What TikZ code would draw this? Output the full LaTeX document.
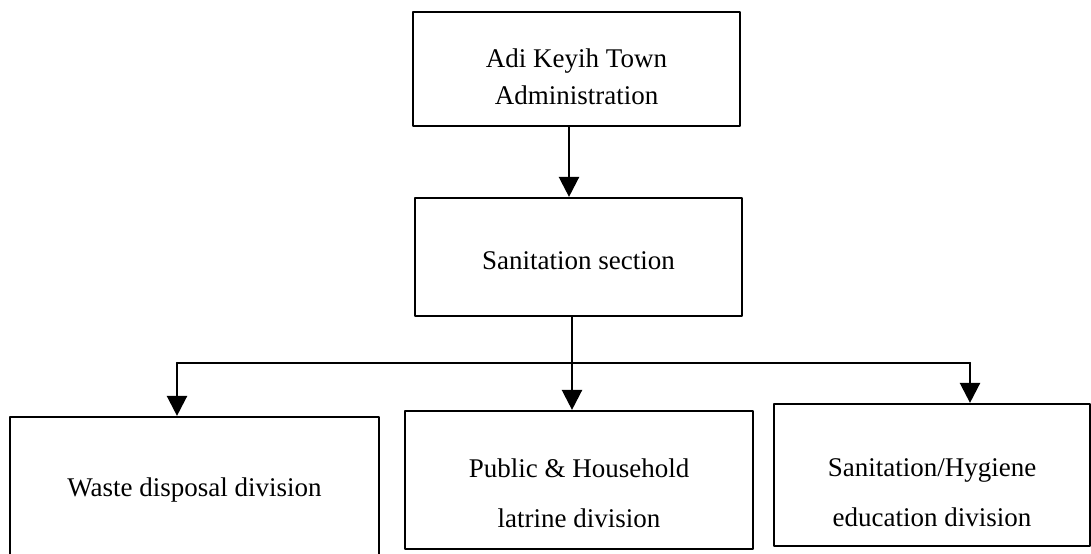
\documentclass[tikz,border=0pt]{standalone}
\usepackage{fontspec}
\setmainfont{Liberation Serif}
\usepackage{tikz}
\usetikzlibrary{calc}
\usetikzlibrary{arrows.meta}
\tikzset{unitbox/.style={draw,line width=1.1pt,inner sep=0pt,align=center,font=\fontsize{13.5}{25}\selectfont}}

\begin{document}
\begin{tikzpicture}[line cap=round,line join=round,>={Triangle[width=10pt,length=10pt]},x=0.5pt,y=-0.5pt]
                    \useasboundingbox (0,0) rectangle (1091,553);
                    \clip (0,0) rectangle (1091,553);
                    \node [unitbox,minimum width=163.5pt,minimum height=57pt,font=\fontsize{13.5}{18.5}\selectfont] (admin) at (576.5,69) {\rule{0pt}{17.5pt}Adi Keyih Town\\Administration};
                    \node [unitbox,minimum width=163.5pt,minimum height=59pt] (section) at (578.5,257) {\rule{0pt}{12.5pt}Sanitation section};
                    \node [unitbox,minimum width=184.5pt,minimum height=70pt] (waste) at (194.5,487) {\rule{0pt}{12.5pt}Waste disposal division};
                    \node [unitbox,minimum width=174pt,minimum height=69pt] (latrine) at (579,480) {\rule{0pt}{22.5pt}Public \& Household\\latrine division};
                    \node [unitbox,minimum width=158pt,minimum height=71pt] (hygiene) at (932,475) {\rule{0pt}{27pt}Sanitation/Hygiene\\education division};
                    \coordinate (topline) at (569,0);
                    \coordinate (midline) at (572,363);
                    \coordinate (busL) at (177,363);
                    \coordinate (busR) at (970,363);
                    \draw [->,line width=1.2pt] (admin.south -| topline) -- (section.north -| topline);
                    \draw [->,line width=1.2pt] (section.south -| midline) -- (latrine.north -| midline);
                    \draw [line width=1.2pt] (busL) -- (busR);
                    \draw [->,line width=1.2pt] (busL) -- (waste.north -| busL);
                    \draw [->,line width=1.2pt] (busR) -- (hygiene.north -| busR);
\end{tikzpicture}
\end{document}
